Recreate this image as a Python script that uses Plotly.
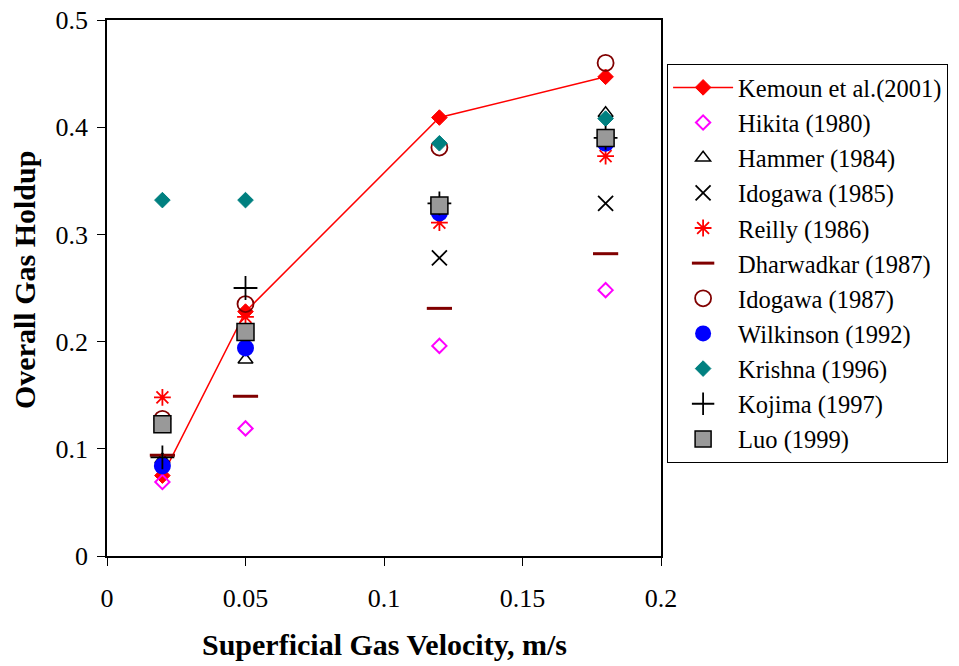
import plotly.graph_objects as go

# Superficial gas velocity (m/s)
velocity = [0.02, 0.05, 0.12, 0.18]

# Overall gas holdup per correlation / data source
kemoun = [0.075, 0.228, 0.409, 0.447]
hikita = [0.069, 0.119, 0.196, 0.248]
hammer = [0.090, 0.183, 0.325, 0.413]
idogawa85 = [None, None, 0.278, 0.329]
reilly = [0.148, 0.223, 0.311, 0.373]
dharwadkar = [0.094, 0.149, 0.231, 0.282]
idogawa87 = [0.128, 0.235, 0.381, 0.460]
wilkinson = [0.084, 0.194, 0.320, 0.385]
krishna = [0.332, 0.332, 0.385, 0.408]
kojima = [0.092, 0.250, 0.329, 0.390]
luo = [0.123, 0.209, 0.327, 0.390]

x_ticks = [0, 0.05, 0.1, 0.15, 0.2]
x_tick_text = ["0", "0.05", "0.1", "0.15", "0.2"]
y_ticks = [0, 0.1, 0.2, 0.3, 0.4, 0.5]
y_tick_text = ["0", "0.1", "0.2", "0.3", "0.4", "0.5"]

SERIF = "Liberation Serif"

series = [
    ("Kemoun et al.(2001)", kemoun, dict(symbol="diamond", size=12, color="#FF0000",
                                          line=dict(color="#FF0000", width=1)), True),
    ("Hikita (1980)", hikita, dict(symbol="diamond-open", size=11, color="#FF00FF",
                                   line=dict(color="#FF00FF", width=2)), False),
    ("Hammer (1984)", hammer, dict(symbol="triangle-up-open", size=13, color="#000000",
                                   line=dict(color="#000000", width=1.5)), False),
    ("Idogawa (1985)", idogawa85, dict(symbol="x-thin-open", size=15, color="#000000",
                                       line=dict(color="#000000", width=1.8)), False),
    ("Reilly (1986)", reilly, dict(symbol="asterisk-open", size=14, color="#FF0000",
                                   line=dict(color="#FF0000", width=1.8)), False),
    ("Dharwadkar (1987)", dharwadkar, dict(symbol="line-ew-open", size=18, color="#800000",
                                           line=dict(color="#800000", width=3)), False),
    ("Idogawa (1987)", idogawa87, dict(symbol="circle-open", size=16, color="#800000",
                                       line=dict(color="#800000", width=1.8)), False),
    ("Wilkinson (1992)", wilkinson, dict(symbol="circle", size=17, color="#0000FF",
                                         line=dict(color="#0000FF", width=0)), False),
    ("Krishna (1996)", krishna, dict(symbol="diamond", size=12, color="#008080",
                                     line=dict(color="#008080", width=1)), False),
    ("Kojima (1997)", kojima, dict(symbol="cross-thin-open", size=17, color="#000000",
                                   line=dict(color="#000000", width=1.8)), False),
    ("Luo (1999)", luo, dict(symbol="square", size=17, color="#999999",
                             line=dict(color="#000000", width=1.5)), False),
]

fig = go.Figure()
for i, (name, vals, marker, with_line) in enumerate(series):
    fig.add_trace(go.Scatter(
        x=velocity, y=vals, name=name,
        mode="lines+markers" if with_line else "markers",
        line=dict(color="#FF0000", width=1.5),
        marker=marker,
        legendgroup=f"g{i}",
    ))

axis_common = dict(
    showline=True, linecolor="#000000", linewidth=1.5, mirror=True,
    showgrid=False, zeroline=False, ticks="outside", ticklen=8,
    tickcolor="#000000", tickwidth=1, automargin=False,
    tickfont=dict(family=SERIF, size=26, color="#000000"),
)

fig.update_layout(
    width=959, height=666,
    margin=dict(l=107, r=298, t=20, b=110, autoexpand=False),
    paper_bgcolor="#FFFFFF", plot_bgcolor="#FFFFFF",
    xaxis=dict(range=[0, 0.2], tickvals=x_ticks, ticktext=x_tick_text,
               ticklabelstandoff=10, **axis_common),
    yaxis=dict(range=[0, 0.5], tickvals=y_ticks, ticktext=y_tick_text,
               ticklabelstandoff=4, **axis_common),
    legend=dict(
        x=1.011, xanchor="left", y=0.918, yanchor="top",
        bordercolor="#000000", borderwidth=1, bgcolor="#FFFFFF",
        font=dict(family=SERIF, size=24.5, color="#000000"),
        traceorder="grouped", tracegroupgap=0.3, itemwidth=60,
    ),
    showlegend=True,
    annotations=[
        dict(text="<b>Superficial Gas Velocity, m/s</b>", xref="paper", yref="paper",
             x=0.5, y=-0.165, xanchor="center", yanchor="middle", showarrow=False,
             font=dict(family=SERIF, size=30, color="#000000")),
        dict(text="<b>Overall Gas Holdup</b>", xref="paper", yref="paper",
             x=-0.148, y=0.515, xanchor="center", yanchor="middle", showarrow=False,
             textangle=-90, font=dict(family=SERIF, size=30, color="#000000")),
    ],
)

fig.write_html("out.html")
